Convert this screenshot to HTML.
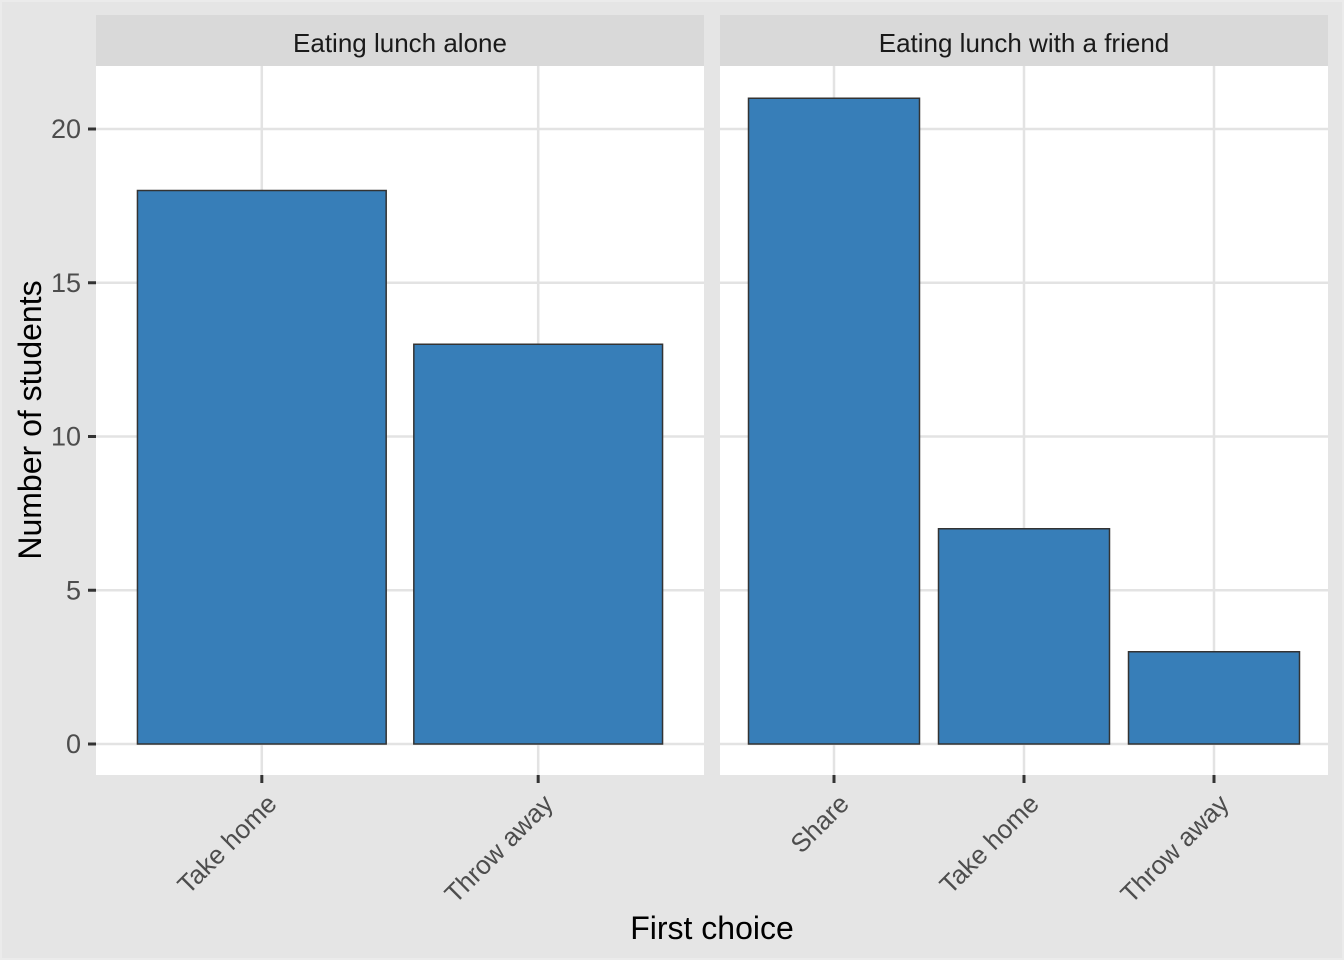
<!DOCTYPE html>
<html><head><meta charset="utf-8"><style>
html,body{margin:0;padding:0;background:#EBEBEB}
svg{display:block;font-family:"Liberation Sans",Arial,sans-serif}
</style></head><body>
<svg width="1344" height="960" viewBox="0 0 1344 960">
<rect x="0" y="0" width="1344" height="960" fill="#EBEBEB"/>
<rect x="2" y="2" width="1340" height="956" fill="#E5E5E5"/>
<g id="chart"></g>
<text x="30" y="420" transform="rotate(-90 30 420)" text-anchor="middle" dominant-baseline="central" font-size="32" fill="#000">Number of students</text>
<text x="712" y="939" text-anchor="middle" font-size="32" fill="#000">First choice</text>
</svg>
<script>
const facets = ["Eating lunch alone", "Eating lunch with a friend"];
const cats0 = ["Take home", "Throw away"];
const vals0 = [18, 13];
const cats1 = ["Share", "Take home", "Throw away"];
const vals1 = [21, 7, 3];
const yTicks = [0, 5, 10, 15, 20];

const NS = "http://www.w3.org/2000/svg";
const g = document.getElementById("chart");
function mk(tag, attrs, parent){const e=document.createElementNS(NS,tag);for(const k in attrs)e.setAttribute(k,attrs[k]);(parent||g).appendChild(e);return e;}
const yTop=66, yBot=775, y0=744, pxPerUnit=(744-129)/20;
function yScale(v){return y0 - v*pxPerUnit;}
const panels=[{x:96,w:608,cats:cats0,vals:vals0},{x:720,w:608,cats:cats1,vals:vals1}];
panels.forEach((p,pi)=>{
  const n=p.cats.length, unit=p.w/(n-1+1.2);
  const xScale=i=>p.x+(0.6+i)*unit;
  const strip=mk("rect",{x:p.x,y:15,width:p.w,height:51,fill:"#D9D9D9"});
  
  
  const st=mk("text",{x:p.x+p.w/2,y:52,"text-anchor":"middle","font-size":"26",fill:"#1A1A1A"});
  st.textContent=facets[pi];
  
  
  const bg=mk("rect",{x:p.x,y:yTop,width:p.w,height:yBot-yTop,fill:"#FFFFFF"});
  
  
  yTicks.forEach(t=>{
    const l=mk("line",{x1:p.x,x2:p.x+p.w,y1:yScale(t),y2:yScale(t),stroke:"#E3E3E3","stroke-width":"2.5"});
    
    
  });
  p.cats.forEach((c,i)=>{
    const l=mk("line",{x1:xScale(i),x2:xScale(i),y1:yTop,y2:yBot,stroke:"#E3E3E3","stroke-width":"2.5"});
    
    
  });
  p.cats.forEach((c,i)=>{
    const bw=0.9*unit, cx=xScale(i);
    const b=mk("rect",{x:cx-bw/2,y:yScale(p.vals[i]),width:bw,height:yScale(0)-yScale(p.vals[i]),fill:"#377EB8",stroke:"#333333","stroke-width":"1.5"});
    
    
    const tk=mk("line",{x1:cx,x2:cx,y1:yBot,y2:yBot+8,stroke:"#333333","stroke-width":"3"});
    
    
    const tl=mk("text",{transform:`translate(${cx+10},${yBot+24}) rotate(-45)`,"text-anchor":"end","font-size":"26",fill:"#4D4D4D",dy:"0.35em"});
    tl.textContent=c;
    
    
  });
});
yTicks.forEach(t=>{
  const tk=mk("line",{x1:88,x2:96,y1:yScale(t),y2:yScale(t),stroke:"#333333","stroke-width":"3"});
  
  
  const tl=mk("text",{x:81,y:yScale(t)+9,"text-anchor":"end","font-size":"27",fill:"#4D4D4D"});
  tl.textContent=t;
  
  
});
</script>
</body></html>
